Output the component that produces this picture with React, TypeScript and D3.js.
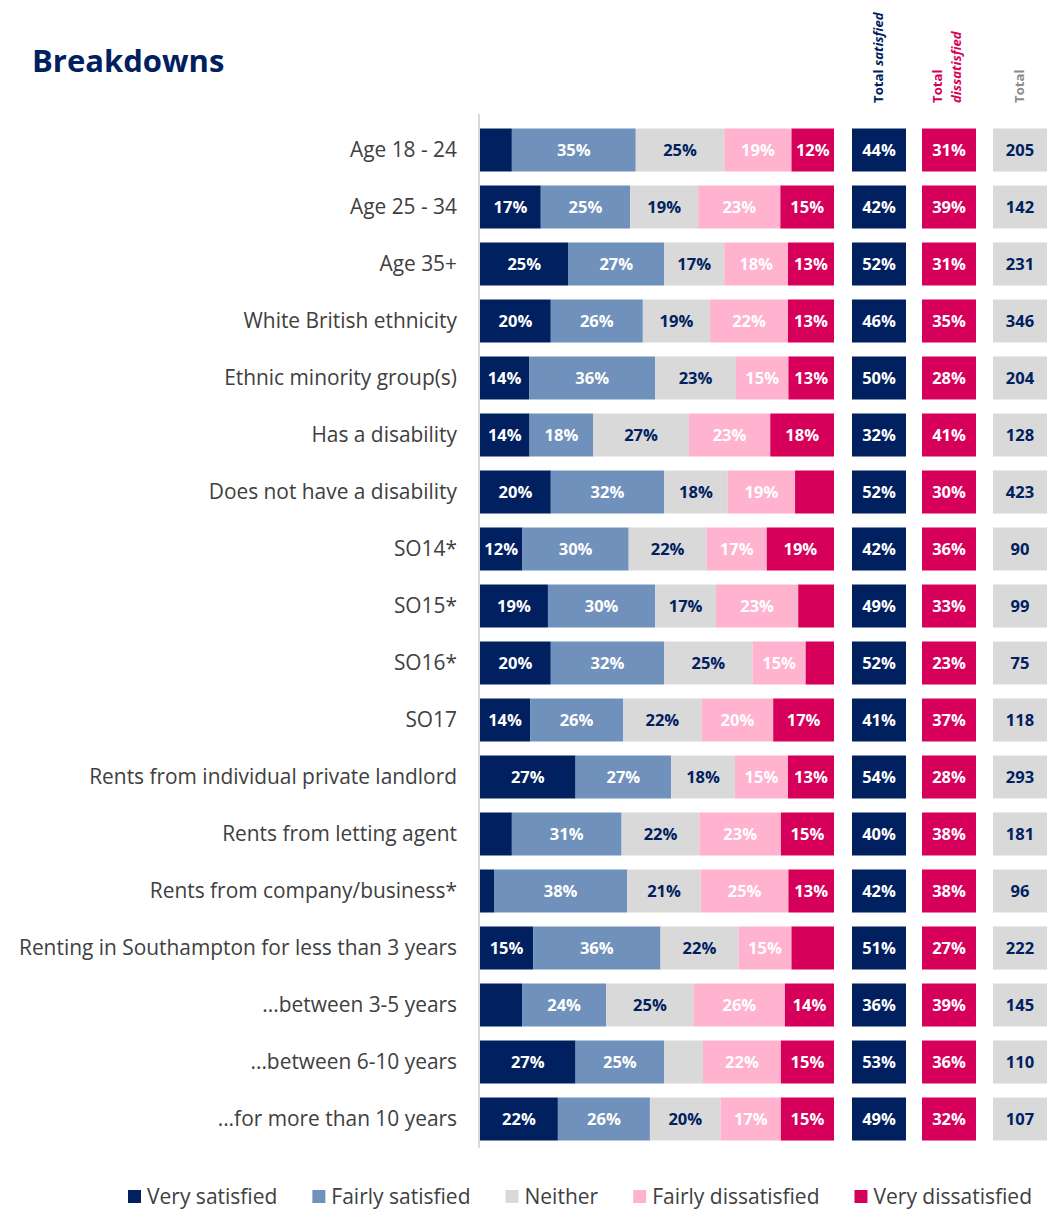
import React, { useEffect, useRef } from "react";
import * as d3 from "d3";

const categories = [
  "Age 18 - 24",
  "Age 25 - 34",
  "Age 35+",
  "White British ethnicity",
  "Ethnic minority group(s)",
  "Has a disability",
  "Does not have a disability",
  "SO14*",
  "SO15*",
  "SO16*",
  "SO17",
  "Rents from individual private landlord",
  "Rents from letting agent",
  "Rents from company/business*",
  "Renting in Southampton for less than 3 years",
  "...between 3-5 years",
  "...between 6-10 years",
  "...for more than 10 years",
];

const seriesNames = ["Very satisfied", "Fairly satisfied", "Neither", "Fairly dissatisfied", "Very dissatisfied"];

const verySatisfied = [9, 17, 25, 20, 14, 14, 20, 12, 19, 20, 14, 27, 9, 4, 15, 12, 27, 22];
const fairlySatisfied = [35, 25, 27, 26, 36, 18, 32, 30, 30, 32, 26, 27, 31, 38, 36, 24, 25, 26];
const neither = [25, 19, 17, 19, 23, 27, 18, 22, 17, 25, 22, 18, 22, 21, 22, 25, 11, 20];
const fairlyDissatisfied = [19, 23, 18, 22, 15, 23, 19, 17, 23, 15, 20, 15, 23, 25, 15, 26, 22, 17];
const veryDissatisfied = [12, 15, 13, 13, 13, 18, 11, 19, 10, 8, 17, 13, 15, 13, 12, 14, 15, 15];

// segment labels that are not shown in the original: [row, series]
const hiddenLabels: [number, number][] = [
  [0, 0], [6, 4], [8, 4], [9, 4], [12, 0], [13, 0], [14, 4], [15, 0], [16, 2],
];

const totalSatisfied = [44, 42, 52, 46, 50, 32, 52, 42, 49, 52, 41, 54, 40, 42, 51, 36, 53, 49];
const totalDissatisfied = [31, 39, 31, 35, 28, 41, 30, 36, 33, 23, 37, 28, 38, 38, 27, 39, 36, 32];
const totals = [205, 142, 231, 346, 204, 128, 423, 90, 99, 75, 118, 293, 181, 96, 222, 145, 110, 107];

const colors = ["#002060", "#6F91BC", "#D9D9D9", "#FFB3CE", "#D6005A"];
const labelColors = ["#FFFFFF", "#FFFFFF", "#002060", "#FFFFFF", "#FFFFFF"];

const W = 1058;
const H = 1209;
const FONT = "'Open Sans', 'Noto Sans', sans-serif";

export default function App() {
  const ref = useRef<SVGSVGElement>(null);

  useEffect(() => {
    const svg = d3.select(ref.current);
    svg.selectAll("*").remove();

    const series = [verySatisfied, fairlySatisfied, neither, fairlyDissatisfied, veryDissatisfied];
    const rows = categories.map((c, i) => ({
      cat: c,
      vals: series.map((s) => s[i]),
    }));

    const y = d3
      .scaleBand<string>()
      .domain(categories)
      .range([121.5, 1147.5])
      .paddingInner(14 / 57)
      .paddingOuter(7 / 57);

    const barX0 = 480;
    const barX1 = 834;

    // Title
    svg
      .append("text")
      .attr("x", 32)
      .attr("y", 72)
      .attr("font-family", FONT)
      .attr("font-weight", 700)
      .attr("font-size", 31)
      .attr("fill", "#002060")
      .text("Breakdowns");

    // Axis line
    svg
      .append("line")
      .attr("x1", barX0 - 1)
      .attr("x2", barX0 - 1)
      .attr("y1", 114)
      .attr("y2", 1148)
      .attr("stroke", "#D9D9D9")
      .attr("stroke-width", 2);

    const hidden = new Set(hiddenLabels.map(([r, s]) => `${r}-${s}`));

    rows.forEach((row, i) => {
      const sum = d3.sum(row.vals);
      const x = d3.scaleLinear().domain([0, sum]).range([barX0, barX1]);
      const yy = y(row.cat)!;
      const bh = y.bandwidth();
      const cy = yy + bh / 2;

      // category label
      svg
        .append("text")
        .attr("x", 457)
        .attr("y", cy)
        .attr("dy", "0.35em")
        .attr("text-anchor", "end")
        .attr("font-family", FONT)
        .attr("font-size", 20.9)
        .attr("fill", "#404040")
        .text(row.cat);

      let acc = 0;
      row.vals.forEach((v, s) => {
        const x0 = x(acc);
        const x1 = x(acc + v);
        acc += v;
        svg
          .append("rect")
          .attr("x", x0)
          .attr("y", yy)
          .attr("width", x1 - x0)
          .attr("height", bh)
          .attr("fill", colors[s]);
        if (!hidden.has(`${i}-${s}`)) {
          svg
            .append("text")
            .attr("x", (x0 + x1) / 2)
            .attr("y", cy)
            .attr("dy", "0.35em")
            .attr("text-anchor", "middle")
            .attr("font-family", FONT)
            .attr("font-weight", 700)
            .attr("font-size", 16.5)
            .attr("fill", labelColors[s])
            .text(`${v}%`);
        }
      });

      // right boxes
      const boxes = [
        { x: 852, w: 54, fill: "#002060", tc: "#FFFFFF", t: `${totalSatisfied[i]}%` },
        { x: 922, w: 54, fill: "#D6005A", tc: "#FFFFFF", t: `${totalDissatisfied[i]}%` },
        { x: 993, w: 54, fill: "#D9D9D9", tc: "#002060", t: `${totals[i]}` },
      ];
      boxes.forEach((b) => {
        svg
          .append("rect")
          .attr("x", b.x)
          .attr("y", yy)
          .attr("width", b.w)
          .attr("height", bh)
          .attr("fill", b.fill);
        svg
          .append("text")
          .attr("x", b.x + b.w / 2)
          .attr("y", cy)
          .attr("dy", "0.35em")
          .attr("text-anchor", "middle")
          .attr("font-family", FONT)
          .attr("font-weight", 700)
          .attr("font-size", 16.5)
          .attr("fill", b.tc)
          .text(b.t);
      });
    });

    // Column headers (rotated)
    const hdr = (x: number, parts: { t: string; italic?: boolean }[], color: string) => {
      const t = svg
        .append("text")
        .attr("transform", `translate(${x},103) rotate(-90)`)
        .attr("font-family", FONT)
        .attr("font-weight", 700)
        .attr("font-size", 13.2)
        .attr("fill", color);
      parts.forEach((p, k) => {
        t.append("tspan")
          .attr("font-style", p.italic ? "italic" : "normal")
          .text((k > 0 ? " " : "") + p.t);
      });
    };
    hdr(883, [{ t: "Total" }, { t: "satisfied", italic: true }], "#002060");
    hdr(942, [{ t: "Total" }], "#D6005A");
    hdr(961, [{ t: "dissatisfied", italic: true }], "#D6005A");
    hdr(1024, [{ t: "Total" }], "#8C8C8C");

    // Legend
    const lg = svg.append("g");
    const legendStart = 128;
    const legendEnd = 1032;
    const items = seriesNames.map((n, s) => {
      const t = lg
        .append("text")
        .attr("font-family", FONT)
        .attr("font-size", 21)
        .attr("fill", "#404040")
        .attr("y", 1197)
        .attr("dy", "0.35em")
        .text(n);
      const w = (t.node() as SVGTextElement).getComputedTextLength();
      return { t, w, s };
    });
    const contentW = d3.sum(items, (d) => 19 + d.w);
    const gap = (legendEnd - legendStart - contentW) / (items.length - 1);
    let cx = legendStart;
    items.forEach((it) => {
      lg.append("rect")
        .attr("x", cx)
        .attr("y", 1190)
        .attr("width", 13)
        .attr("height", 13)
        .attr("fill", colors[it.s]);
      it.t.attr("x", cx + 19);
      cx += 19 + it.w + gap;
    });
  }, []);

  return (
    <svg
      ref={ref}
      width={W}
      height={H}
      style={{ position: "absolute", left: 0, top: 0, background: "#fff" }}
    />
  );
}
